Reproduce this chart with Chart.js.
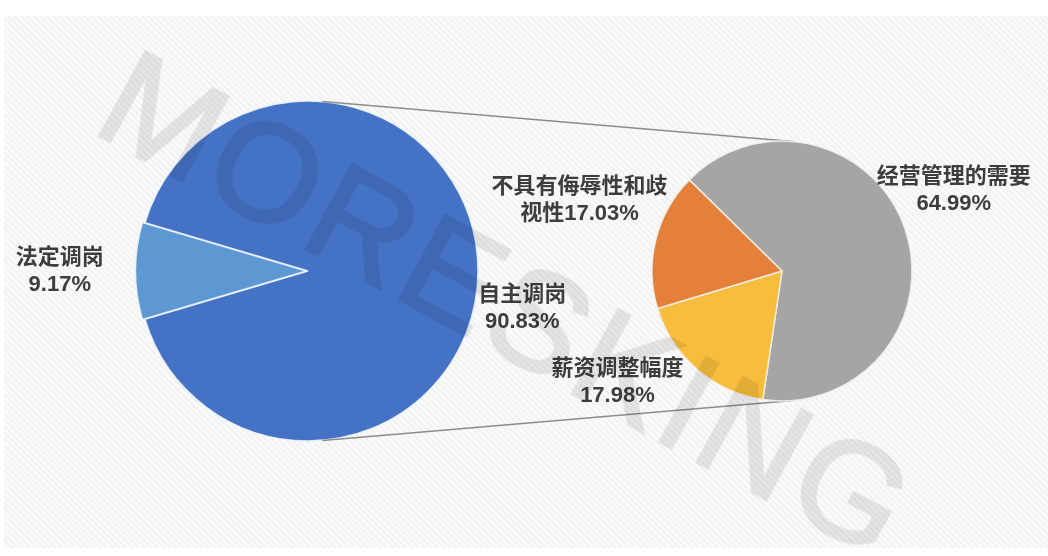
<!DOCTYPE html>
<html>
<head>
<meta charset="utf-8">
<script src="https://cdn.jsdelivr.net/npm/chart.js@4"></script>
<style>
  html, body { margin: 0; padding: 0; background: #ffffff; }
  #stage { position: relative; width: 1048px; height: 556px; overflow: hidden; background: #ffffff; }
  #bg { position: absolute; left: 4px; top: 16px; width: 1044px; height: 532px;
        background: repeating-linear-gradient(45deg, #f2f2f2 0px, #f2f2f2 2px, #fafafa 2px, #fafafa 4.5px); }
  canvas { position: absolute; left: 0; top: 0; }
  #wm { position: absolute; left: 508px; top: 304px; white-space: nowrap;
        transform: translate(-50%, -50%) rotate(28.6deg);
        font-family: "Liberation Sans", Arial, sans-serif; font-weight: 400; font-size: 140px;
        letter-spacing: 5px; line-height: 1; color: #000; -webkit-text-stroke: 3px #000;
        opacity: 0.085; pointer-events: none; }
</style>
</head>
<body>
<div id="stage">
  <div id="bg"></div>
  <canvas id="c1" width="1048" height="556"></canvas>
  <canvas id="c2" width="1048" height="556"></canvas>
  <div id="wm">MORESKING</div>
</div>
<script>
// ---- data ----
const mainCategories = ['自主调岗', '法定调岗'];
const mainValues = [90.83, 9.17];
const subCategories = ['经营管理的需要', '薪资调整幅度', '不具有侮辱性和歧视性'];
const subValues = [64.99, 17.98, 17.03];
const watermarkText = 'MORESKING';

document.getElementById('wm').textContent = watermarkText;

const mainColors = ['#4472c4', '#5e98d3'];
const subColors = ['#a5a5a5', '#f8bd3c', '#e4803a'];

const LABEL_FONT = 'bold 22px "Liberation Sans", "Noto Sans CJK SC", sans-serif';
const LABEL_COLOR = '#3d3d3d';

function labelLines(name, value) {
  const pct = value.toFixed(2) + '%';
  const maxChars = 8;
  if (name.length < maxChars) return [name, pct];
  const lines = [];
  for (let i = 0; i < name.length; i += maxChars) lines.push(name.slice(i, i + maxChars));
  lines[lines.length - 1] += pct;
  return lines;
}

const pieLabelPlugin = {
  id: 'pieLabels',
  afterDatasetsDraw(chart, args, opts) {
    const meta = chart.getDatasetMeta(0);
    const ds = chart.data.datasets[0];
    const ctx = chart.ctx;
    ctx.save();
    ctx.font = LABEL_FONT;
    ctx.fillStyle = LABEL_COLOR;
    ctx.textAlign = 'center';
    ctx.textBaseline = 'middle';
    meta.data.forEach((arc, i) => {
      const [k, adj] = opts.place[i];
      const mid = (arc.startAngle + arc.endAngle) / 2 + adj * Math.PI / 180;
      const R = arc.outerRadius;
      const cx = arc.x + Math.cos(mid) * R * k;
      const cy = arc.y + Math.sin(mid) * R * k;
      const lines = labelLines(chart.data.labels[i], ds.data[i]);
      const lh = 27;
      lines.forEach((t, j) => {
        ctx.fillText(t, cx, cy + (j - (lines.length - 1) / 2) * lh);
      });
    });
    ctx.restore();
  }
};

const baseOpts = {
  responsive: false,
  animation: false,
  events: [],
  plugins: { legend: { display: false }, tooltip: { enabled: false } }
};

const chart1 = new Chart(document.getElementById('c1'), {
  type: 'pie',
  data: {
    labels: mainCategories,
    datasets: [{
      data: mainValues,
      backgroundColor: mainColors,
      borderColor: 'rgba(235,242,252,0.9)',
      borderWidth: 1.5,
      offset: [0, 7]
    }]
  },
  options: Object.assign({}, baseOpts, {
    rotation: -73.5,
    radius: 170,
    layout: { padding: { left: 138, right: 570, top: 101, bottom: 115 } },
    plugins: Object.assign({}, baseOpts.plugins, {
      pieLabels: { place: [[1.28, 10], [1.46, 0]] }
    })
  }),
  plugins: [pieLabelPlugin]
});

const connectorPlugin = {
  id: 'connectors',
  beforeDatasetsDraw(chart) {
    const a = chart1.getDatasetMeta(0).data[0];
    const b = chart.getDatasetMeta(0).data[0];
    const x1 = a.x, y1 = a.y, r1 = a.outerRadius;
    const x2 = b.x, y2 = b.y, r2 = b.outerRadius;
    const dx = x2 - x1, dy = y2 - y1, D = Math.hypot(dx, dy);
    const ux = dx / D, uy = dy / D;
    const c = (r1 - r2) / D, s = Math.sqrt(1 - c * c);
    const px = -uy, py = ux;
    const ctx = chart.ctx;
    ctx.save();
    ctx.strokeStyle = '#8c8c8c';
    ctx.lineWidth = 1.5;
    [-1, 1].forEach(sign => {
      const nx = c * ux + sign * s * px, ny = c * uy + sign * s * py;
      ctx.beginPath();
      ctx.moveTo(x1 + r1 * nx, y1 + r1 * ny);
      ctx.lineTo(x2 + r2 * nx, y2 + r2 * ny);
      ctx.stroke();
    });
    ctx.restore();
  }
};

const chart2 = new Chart(document.getElementById('c2'), {
  type: 'pie',
  data: {
    labels: subCategories,
    datasets: [{
      data: subValues,
      backgroundColor: subColors,
      borderColor: 'rgba(245,240,235,0.9)',
      borderWidth: 1.5
    }]
  },
  options: Object.assign({}, baseOpts, {
    rotation: -45.5,
    radius: 130,
    layout: { padding: { left: 652, right: 136, top: 141, bottom: 155 } },
    plugins: Object.assign({}, baseOpts.plugins, {
      pieLabels: { place: [[1.46, -6.7], [1.53, 15], [1.65, 5.4]] }
    })
  }),
  plugins: [connectorPlugin, pieLabelPlugin]
});
</script>
</body>
</html>
